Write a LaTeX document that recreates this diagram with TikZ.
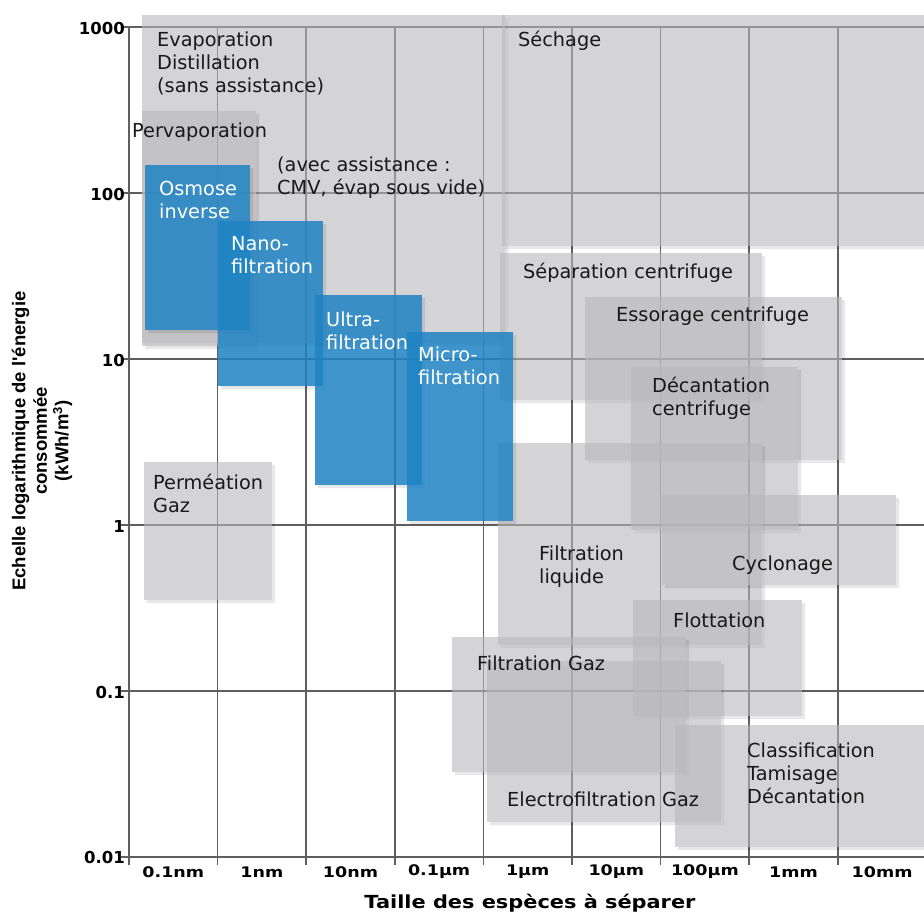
\documentclass[tikz,border=0pt]{standalone}
\usepackage{fontspec}
\setmainfont{DejaVu Sans}
\newfontfamily\tickfont{DejaVu Sans}[FakeStretch=1.2]
\newfontfamily\xtitlefont{DejaVu Sans}[FakeStretch=1.16]
\newfontfamily\arialfont{Liberation Sans}
\definecolor{gridc}{RGB}{95,95,95}
\definecolor{boxgray}{RGB}{184,184,187}
\definecolor{boxblue}{RGB}{30,131,195}
\definecolor{txt}{RGB}{25,25,25}
\tikzset{
  gridl/.style={draw=gridc,line width=1.5pt},
  gbox/.style={fill=boxgray,fill opacity=0.6},
  bbox/.style={fill=boxblue,fill opacity=0.85},
  shad/.style={fill=black,fill opacity=0.09},
  lbl/.style={anchor=base west,inner sep=0pt,align=left,text=txt,
    font=\fontsize{19.3}{23}\selectfont},
  wlbl/.style={lbl,text=white},
  ylab/.style={anchor=east,inner sep=0pt,font=\bfseries\fontsize{16.5}{18}\selectfont},
  xlab/.style={anchor=center,inner sep=0pt,font=\tickfont\bfseries\fontsize{14.6}{16}\selectfont},
}
\newcommand\mybox[5]{%
  \fill[shad] (#2+3,#5) -- (#4,#5) -- (#4,#3+3) -- (#4+3,#3+3) -- (#4+3,#5+3) -- (#2+3,#5+3) -- cycle;
  \fill[#1] (#2,#3) rectangle (#4,#5);}
\begin{document}
\begin{tikzpicture}[x=1pt,y=-1pt]
\useasboundingbox (0,0) rectangle (924,911);
\clip (0,0) rectangle (924,911);
\fill[white] (0,0) rectangle (924,911);
% grid
\foreach \i in {0,...,9} \draw[gridl] ({129+88.6*\i},27) -- ({129+88.6*\i},865);
\foreach \j in {0,...,5} \draw[gridl] (121,{27+166*\j}) -- (924,{27+166*\j});
% grey boxes
\mybox{gbox}{142}{15}{505}{343}
\mybox{gbox}{502}{15}{932}{246}
\mybox{gbox}{142}{111}{256}{346}
\mybox{gbox}{500}{253}{762}{400}
\mybox{gbox}{585}{297}{842}{460}
\mybox{gbox}{631}{367}{798}{530}
\mybox{gbox}{498}{443}{762}{645}
\mybox{gbox}{662}{495}{896}{585}
\mybox{gbox}{633}{600}{802}{716}
\mybox{gbox}{452}{637}{686}{772}
\mybox{gbox}{487}{661}{721}{822}
\mybox{gbox}{675}{725}{932}{847}
\mybox{gbox}{144}{462}{272}{600}
% blue boxes
\mybox{bbox}{145}{165}{250}{330}
\mybox{bbox}{218}{221}{323}{386}
\mybox{bbox}{315}{295}{422}{485}
\mybox{bbox}{407}{332}{513}{521}
% labels (anchor = baseline of the last line)
\node[lbl] (evap) at (157,92) {Evaporation\\Distillation\\(sans assistance)};
\node[lbl] (sechage) at (518,46) {Séchage};
\node[lbl] (pervap) at (132,137) {Pervaporation};
\node[lbl] (avec) at (277,194) {(avec assistance :\\CMV, évap sous vide)};
\node[wlbl] (osmose) at (159,218) {Osmose\\inverse};
\node[wlbl] (nano) at (231,273) {Nano-\\filtration};
\node[wlbl] (ultra) at (326,349) {Ultra-\\filtration};
\node[wlbl] (micro) at (418,384) {Micro-\\filtration};
\node[lbl] (sepcent) at (523,278) {Séparation centrifuge};
\node[lbl] (essorage) at (616,321) {Essorage centrifuge};
\node[lbl] (decant) at (652,415) {Décantation\\centrifuge};
\node[lbl] (cyclon) at (732,570) {Cyclonage};
\node[lbl] (filtliq) at (539,583) {Filtration\\liquide};
\node[lbl] (permeation) at (153,512) {Perméation\\Gaz};
\node[lbl] (flott) at (673,627) {Flottation};
\node[lbl] (filtgaz) at (477,670) {Filtration Gaz};
\node[lbl] (electro) at (507,806) {Electrofiltration Gaz};
\node[lbl] (classif) at (747,803) {Classification\\Tamisage\\Décantation};
% y tick labels
\node[ylab] (y1000) at (125,28) {1000};
\node[ylab] (y100) at (125,194) {100};
\node[ylab] (y10) at (125,360) {10};
\node[ylab] (y1) at (125,526) {1};
\node[ylab] (y01) at (125,692) {0.1};
\node[ylab] (y001) at (125,857) {0.01};
% x tick labels
\node[xlab] (x1) at ({129+88.6*0.5},872) {0.1nm};
\node[xlab] (x2) at ({129+88.6*1.5},872) {1nm};
\node[xlab] (x3) at ({129+88.6*2.5},872) {10nm};
\node[xlab] (x4) at ({129+88.6*3.5},872) {0.1µm};
\node[xlab] (x5) at ({129+88.6*4.5},872) {1µm};
\node[xlab] (x6) at ({129+88.6*5.5},872) {10µm};
\node[xlab] (x7) at ({129+88.6*6.5},872) {100µm};
\node[xlab] (x8) at ({129+88.6*7.5},872) {1mm};
\node[xlab] (x9) at ({129+88.6*8.5},872) {10mm};
% axis titles
\node[anchor=base,inner sep=0pt,font=\xtitlefont\bfseries\fontsize{18}{20}\selectfont] (xtitle) at (530,908) {Taille des espèces à séparer};
\node[rotate=90,align=center,inner sep=0pt,font=\arialfont\bfseries\fontsize{18.5}{21.5}\selectfont] (ytitle) at (42,441) {Echelle logarithmique de l'énergie\\consommée\\(kWh/m\textsuperscript{3})};
\end{tikzpicture}
\end{document}
